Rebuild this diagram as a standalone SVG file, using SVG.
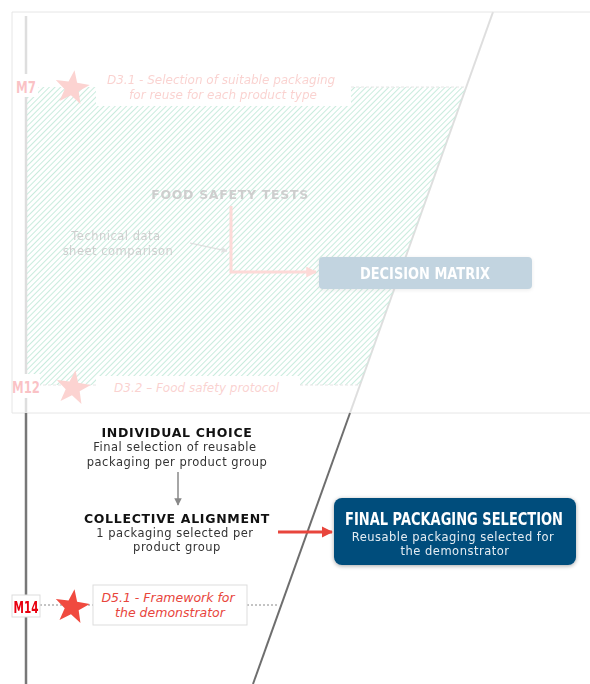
<svg xmlns="http://www.w3.org/2000/svg" width="590" height="684" viewBox="0 0 590 684">
  <defs>
    <pattern id="hatch" width="4" height="4" patternUnits="userSpaceOnUse" patternTransform="rotate(45)">
      <line x1="0" y1="0" x2="0" y2="4" stroke="#1fae74" stroke-width="2"/>
    </pattern>
    <path id="star" d="M0,-18 L4.35,-5.99 L17.12,-5.56 L7.05,2.29 L10.58,14.56 L0,7.41 L-10.58,14.56 L-7.05,2.29 L-17.12,-5.56 L-4.35,-5.99 Z"/>
    <marker id="arrGray" viewBox="0 0 10 10" refX="9" refY="5" markerWidth="5" markerHeight="5" orient="auto">
      <path d="M0,0 L10,5 L0,10 Z" fill="#888"/>
    </marker>
    <marker id="arrRed" viewBox="0 0 10 10" refX="9" refY="5" markerWidth="3.8" markerHeight="3.8" orient="auto">
      <path d="M0,0 L10,5 L0,10 Z" fill="#e8453c"/>
    </marker>
    <marker id="arrPink" viewBox="0 0 10 10" refX="9" refY="5" markerWidth="3.6" markerHeight="3.6" orient="auto">
      <path d="M0,0 L10,5 L0,10 Z" fill="#f5675d"/>
    </marker>
    <filter id="shadow" x="-10%" y="-20%" width="120%" height="150%">
      <feGaussianBlur in="SourceAlpha" stdDeviation="2"/>
      <feOffset dy="1"/>
      <feComponentTransfer><feFuncA type="linear" slope="0.35"/></feComponentTransfer>
      <feMerge><feMergeNode/><feMergeNode in="SourceGraphic"/></feMerge>
    </filter>
  </defs>
  <style>
    .head { font-family: "DejaVu Sans", "Noto Sans", sans-serif; font-weight: bold; letter-spacing: 0.7px; }
    .body { font-family: "DejaVu Sans", "Noto Sans", sans-serif; letter-spacing: 0.5px; }
    .cond { font-family: "DejaVu Sans", "Liberation Sans", sans-serif; font-weight: bold; }
    .deliv { font-family: "DejaVu Sans", "Noto Sans", sans-serif; font-style: italic; }
    .ms { font-family: "DejaVu Sans", "Liberation Sans", sans-serif; font-weight: bold; }
    .tl { stroke: #777; stroke-width: 2.5; fill: none; }
    .dark { fill: #111; }
    .grey { fill: #333; }
    .red { fill: #e8453c; }
    .msred { fill: #e8000f; }
    .white { fill: #fff; }
    .pale { fill: #e4edf3; }
  </style>

  <rect width="590" height="684" fill="#fff"/>

  <!-- earlier phase panel, shown faded -->
  <g id="earlier-phase" opacity="0.24">
    <line class="tl" x1="26" y1="16" x2="26" y2="413"/>
    <line x1="493" y1="12" x2="350" y2="413" stroke="#777" stroke-width="2"/>
    <!-- hatched work area between the timeline and the slanted edge -->
    <polygon points="27,87 466,87 360,385 27,385" fill="url(#hatch)"/>
    <line x1="351" y1="87" x2="466" y2="87" stroke="#999" stroke-width="1" stroke-dasharray="3,2"/>
    <line x1="38" y1="385" x2="96" y2="385" stroke="#999" stroke-width="1" stroke-dasharray="3,2"/>
    <line x1="300" y1="385" x2="360" y2="385" stroke="#999" stroke-width="1" stroke-dasharray="3,2"/>

    <g id="m7">
      <rect x="12" y="74" width="26" height="23" fill="#fff"/>
      <text class="ms msred" x="16" y="93" font-size="16" textLength="20" lengthAdjust="spacingAndGlyphs">M7</text>
      <use href="#star" transform="translate(72,88) rotate(8)" fill="#f04a3f"/>
    </g>
    <g id="d3-1">
      <rect x="96" y="70" width="255" height="36" fill="#fff"/>
      <text class="deliv red" font-size="12" text-anchor="middle">
        <tspan x="223" y="84">D3.1 - Selection of suitable packaging</tspan>
        <tspan x="223" y="99">for reuse for each product type</tspan>
      </text>
    </g>

    <g id="food-safety-tests">
      <text class="head grey" x="230" y="199" font-size="12.5" text-anchor="middle" letter-spacing="1.5">FOOD SAFETY TESTS</text>
    </g>
    <g id="datasheet">
      <text class="body grey" font-size="11.5" text-anchor="middle">
        <tspan x="118" y="240">Technical data</tspan>
        <tspan x="118" y="255">sheet comparison</tspan>
      </text>
    </g>

    <g id="earlier-connectors">
      <line x1="190" y1="243" x2="227" y2="251" stroke="#666" stroke-width="1.2" marker-end="url(#arrGray)"/>
      <polyline points="231,206 231,272 316,272" fill="none" stroke="#f5675d" stroke-width="3" marker-end="url(#arrPink)"/>
    </g>

    <g id="decision-matrix">
      <rect x="319" y="257" width="213" height="32" rx="4" fill="#044d7c" filter="url(#shadow)"/>
      <text class="cond white" transform="translate(360,279) scale(0.8,1)" x="0" y="0" font-size="16" textLength="162.5" lengthAdjust="spacingAndGlyphs">DECISION MATRIX</text>
    </g>

    <g id="m12">
      <rect x="12" y="374" width="28" height="24" fill="#fff"/>
      <text class="ms msred" x="12" y="393" font-size="16" textLength="28" lengthAdjust="spacingAndGlyphs">M12</text>
      <use href="#star" transform="translate(73,388) rotate(8)" fill="#f04a3f"/>
    </g>
    <g id="d3-2">
      <rect x="96" y="376" width="204" height="22" fill="#fff"/>
      <text class="deliv red" x="114" y="392" font-size="12">D3.2 – Food safety protocol</text>
    </g>
  </g>

  <!-- panel frame -->
  <g id="frame" fill="none" stroke="#e6e6e6" stroke-width="1">
    <polyline points="12,413 12,12 590,12"/>
    <line x1="12" y1="413" x2="590" y2="413"/>
  </g>

  <!-- current phase timeline -->
  <g id="timeline">
    <line class="tl" x1="26" y1="413" x2="26" y2="684"/>
    <line x1="350" y1="413" x2="253" y2="684" stroke="#6e6e6e" stroke-width="2"/>
  </g>

  <g id="individual-choice">
    <text class="head dark" x="177" y="437" font-size="12.5" text-anchor="middle">INDIVIDUAL CHOICE</text>
    <text class="body grey" font-size="11.5" text-anchor="middle">
      <tspan x="177" y="451">Final selection of reusable</tspan>
      <tspan x="177" y="466">packaging per product group</tspan>
    </text>
  </g>

  <g id="collective-alignment">
    <text class="head dark" x="177" y="523" font-size="12.5" text-anchor="middle">COLLECTIVE ALIGNMENT</text>
    <text class="body grey" font-size="11.5" text-anchor="middle">
      <tspan x="177" y="537">1 packaging selected per</tspan>
      <tspan x="177" y="551">product group</tspan>
    </text>
  </g>

  <g id="final-packaging-selection">
    <rect x="334" y="498" width="242" height="67" rx="8" fill="#044d7c" filter="url(#shadow)"/>
    <text class="cond white" transform="translate(345,525) scale(0.75,1)" x="0" y="0" font-size="18" textLength="290.7" lengthAdjust="spacingAndGlyphs">FINAL PACKAGING SELECTION</text>
    <text class="body pale" font-size="11.5" text-anchor="middle">
      <tspan x="455" y="541">Reusable packaging selected for</tspan>
      <tspan x="455" y="555">the demonstrator</tspan>
    </text>
  </g>

  <g id="connectors">
    <line x1="178" y1="472" x2="178" y2="505" stroke="#888" stroke-width="1.5" marker-end="url(#arrGray)"/>
    <line x1="278" y1="532" x2="332" y2="532" stroke="#e8453c" stroke-width="3" marker-end="url(#arrRed)"/>
    <line x1="40" y1="605" x2="93" y2="605" stroke="#888" stroke-width="1" stroke-dasharray="2,2"/>
    <line x1="247" y1="605" x2="278" y2="605" stroke="#888" stroke-width="1" stroke-dasharray="2,2"/>
  </g>

  <g id="m14">
    <rect x="12" y="595" width="28" height="22" fill="#fff" stroke="#ddd" stroke-width="1"/>
    <text class="ms msred" x="13.5" y="613" font-size="16" textLength="25" lengthAdjust="spacingAndGlyphs">M14</text>
    <use href="#star" transform="translate(72,607) rotate(8)" fill="#f04a3f"/>
  </g>

  <g id="d5-1">
    <rect x="93" y="585" width="154" height="40" fill="#fff" stroke="#ddd" stroke-width="1"/>
    <text class="deliv red" font-size="12.5" text-anchor="middle">
      <tspan x="170" y="602">D5.1 - Framework for</tspan>
      <tspan x="170" y="617">the demonstrator</tspan>
    </text>
  </g>
</svg>
